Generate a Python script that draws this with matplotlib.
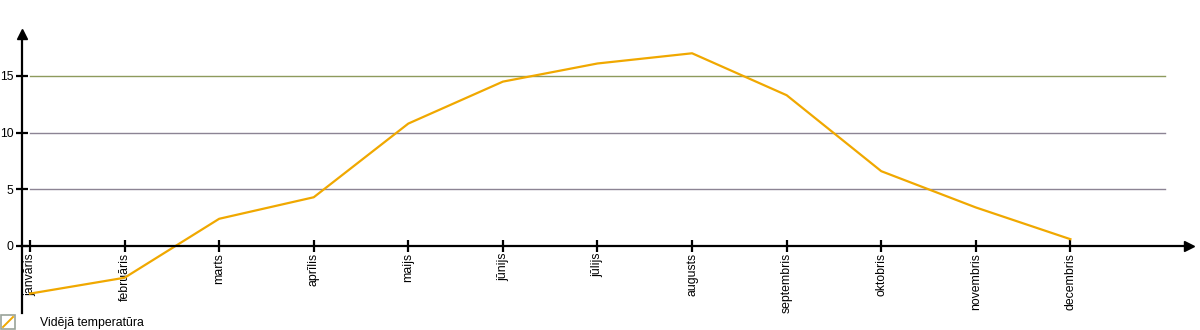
import matplotlib.pyplot as plt
from matplotlib.patches import Rectangle
from matplotlib.lines import Line2D

months = ['janvāris', 'februāris', 'marts', 'aprīlis', 'maijs', 'jūnijs',
          'jūlijs', 'augusts', 'septembris', 'oktobris', 'novembris', 'decembris']
temps = [-4.2, -2.8, 2.4, 4.3, 10.8, 14.5, 16.1, 17.0, 13.3, 6.6, 3.4, 0.6]
yticks = [0, 5, 10, 15]
grid_colors = {5: '#8c8494', 10: '#8c8494', 15: '#8e9a5c'}
series_name = 'Vidējā temperatūra'

plt.rcParams['font.family'] = ['Liberation Sans', 'DejaVu Sans']

fig = plt.figure(figsize=(12, 3.3), dpi=100)
ax = fig.add_axes([0, 0, 1, 1])
ax.set_xlim(-0.317, 12.37)
ax.set_ylim(-7.41, 21.7)

x = list(range(len(months)))

# gridlines
for v in yticks[1:]:
    ax.plot([-0.0, 12.0], [v, v], color=grid_colors[v], lw=1, zorder=1)

ax.plot(x, temps, color='#f0a800', lw=1.6, zorder=3)

# axes as arrows
yax_x = -0.085
for s in ['top', 'right']:
    ax.spines[s].set_visible(False)
ax.spines['left'].set_position(('data', yax_x))
ax.spines['bottom'].set_position(('data', 0))
ax.spines['left'].set_bounds(-5.9, 18.5)
ax.spines['bottom'].set_bounds(yax_x, 12.2)
for s in ['left', 'bottom']:
    ax.spines[s].set_linewidth(1.6)
    ax.spines[s].set_zorder(4)
ax.plot([yax_x], [18.7], marker='^', color='black', ms=7, clip_on=False, zorder=5)
ax.plot([12.25], [0], marker='>', color='black', ms=7, clip_on=False, zorder=5)

ax.set_yticks(yticks)
ax.set_yticklabels([str(v) for v in yticks])
ax.set_xticks(x)
ax.set_xticklabels(months, rotation=90, va='top')
ax.tick_params(axis='both', direction='inout', length=8, width=1.6, labelsize=8.8)
ax.tick_params(axis='y', pad=2)
ax.tick_params(axis='x', pad=1)

# legend
fig.patches.append(Rectangle((1 / 1200, 1 / 330), 14 / 1200, 14 / 330, transform=fig.transFigure,
                             facecolor='white', edgecolor='#9aa39a', lw=1.2))
fig.lines.append(Line2D([3 / 1200, 13 / 1200], [3 / 330, 13 / 330], transform=fig.transFigure,
                        color='#f0a800', lw=1.4))
fig.text(40 / 1200, 7 / 330, series_name, fontsize=8.8, va='center', ha='left')

fig.savefig('out.png', dpi=100)
